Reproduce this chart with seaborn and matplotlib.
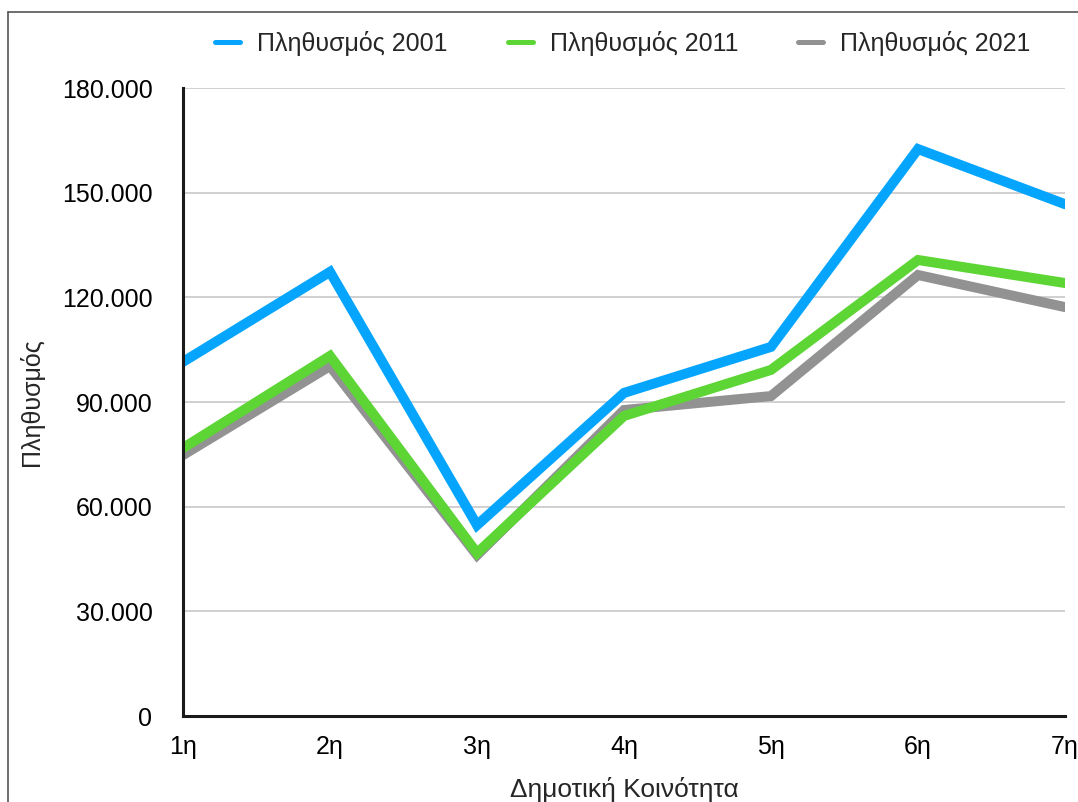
import matplotlib
matplotlib.use("Agg")
import matplotlib.pyplot as plt
from matplotlib.lines import Line2D
from matplotlib.ticker import FuncFormatter
import seaborn as sns
import pandas as pd

communities = ["1η", "2η", "3η", "4η", "5η", "6η", "7η"]
pop_2001 = [101500, 127300, 54700, 92600, 105800, 162500, 146700]
pop_2011 = [76800, 103200, 46700, 86000, 99200, 130700, 124100]
pop_2021 = [74800, 100300, 46100, 87700, 91700, 126400, 117200]
series_names = ["Πληθυσμός 2001", "Πληθυσμός 2011", "Πληθυσμός 2021"]
colors = ["#05A5FD", "#5DD535", "#929292"]

records = []
for name, vals in zip(series_names, [pop_2001, pop_2011, pop_2021]):
    for i, (c, v) in enumerate(zip(communities, vals)):
        records.append({"idx": i, "community": c, "series": name, "value": v})
df = pd.DataFrame(records)

sns.set_theme(style="white")
plt.rcParams["font.family"] = ["Liberation Sans", "DejaVu Sans"]

FS = 18

fig = plt.figure(figsize=(10.78, 8.02), dpi=100)
ax = fig.add_axes([183 / 1078, 1 - 716 / 802, (1065 - 183) / 1078, (716 - 88) / 802])

# later series sit underneath earlier ones
for name, col, z in zip(series_names, colors, [5, 4, 3]):
    sub = df[df["series"] == name]
    sns.lineplot(data=sub, x="idx", y="value", color=col, linewidth=7.2,
                 ax=ax, zorder=z, legend=False, solid_joinstyle="miter")

ax.set_xlim(0, len(communities) - 1)
ax.set_ylim(0, 180000)
ax.set_yticks(range(0, 180001, 30000))
ax.yaxis.set_major_formatter(FuncFormatter(
    lambda v, p: "0" if v == 0 else f"{int(v):,}".replace(",", ".")))
ax.set_xticks(range(len(communities)))
ax.set_xticklabels(communities)
ax.tick_params(axis="both", labelsize=FS, colors="black", length=0)
ax.tick_params(axis="y", pad=22)
ax.tick_params(axis="x", pad=14)

for v in range(30000, 180001, 30000):
    ax.axhline(v, color="#c8c8c8", lw=1.2, zorder=1)

for s in ["top", "right"]:
    ax.spines[s].set_visible(False)
for s in ["left", "bottom"]:
    ax.spines[s].set_color("#1a1a1a")
    ax.spines[s].set_linewidth(2.2)
    ax.spines[s].set_zorder(6)

ax.set_xlabel("Δημοτική Κοινότητα", fontsize=19, labelpad=13)
ax.set_ylabel("Πληθυσμός", fontsize=FS, labelpad=13)

handles = [Line2D([0], [0], color=c, lw=3.6) for c in colors]
fig.legend(handles, series_names, loc="center", bbox_to_anchor=(623 / 1078, 1 - 43 / 802),
           ncol=3, frameon=False, fontsize=FS, handlelength=1.0, handletextpad=0.68,
           columnspacing=2.4)

# thin frame around the figure
fig.add_artist(Line2D([8 / 1078, 8 / 1078], [0, 1 - 12 / 802], transform=fig.transFigure,
                      color="#555555", lw=1.2))
fig.add_artist(Line2D([8 / 1078, 1], [1 - 12 / 802, 1 - 12 / 802], transform=fig.transFigure,
                      color="#555555", lw=1.2))

fig.savefig("out.png", dpi=100, facecolor="white")
